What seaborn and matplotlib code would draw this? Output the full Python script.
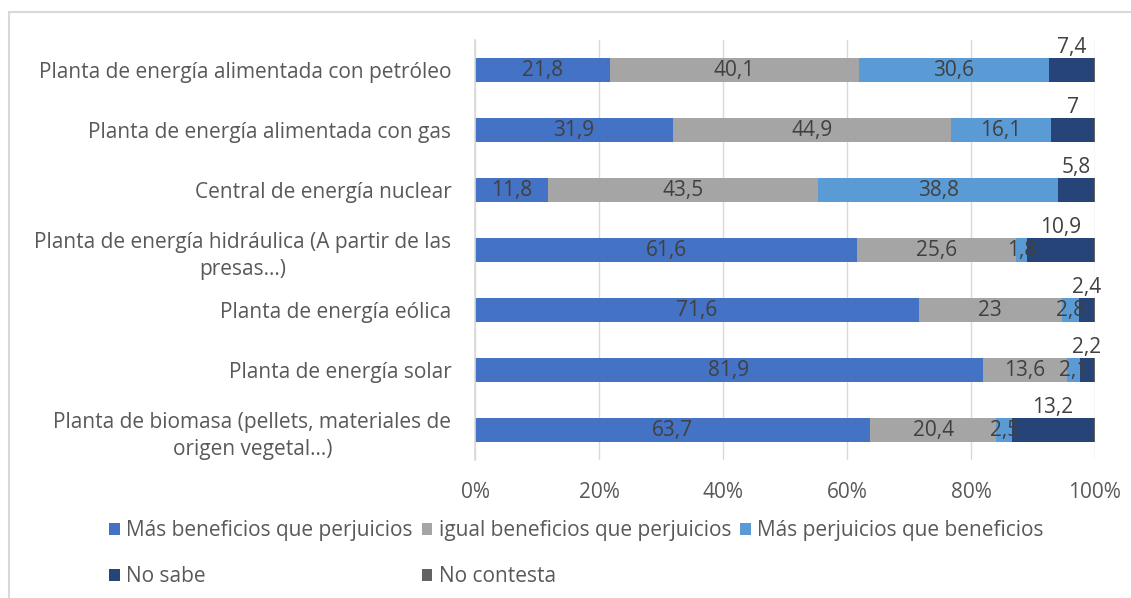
import numpy as np
import pandas as pd
import matplotlib
matplotlib.use("Agg")
import matplotlib.pyplot as plt
from matplotlib.patches import Patch, Rectangle
from matplotlib.ticker import FuncFormatter
import seaborn as sns

# ---- datos ----
plantas = [
    "Planta de energía alimentada con petróleo",
    "Planta de energía alimentada con gas",
    "Central de energía nuclear",
    "Planta de energía hidráulica (A partir de las\npresas…)",
    "Planta de energía eólica",
    "Planta de energía solar",
    "Planta de biomasa (pellets, materiales de\norigen vegetal…)",
]
mas_beneficios = [21.8, 31.9, 11.8, 61.6, 71.6, 81.9, 63.7]
igual_benef    = [40.1, 44.9, 43.5, 25.6, 23.0, 13.6, 20.4]
mas_perjuicios = [30.6, 16.1, 38.8, 1.8, 2.8, 2.1, 2.5]
no_sabe        = [7.4, 7.0, 5.8, 10.9, 2.4, 2.2, 13.2]
no_contesta    = [0.1, 0.1, 0.1, 0.1, 0.2, 0.2, 0.2]

series = ["Más beneficios que perjuicios", "igual beneficios que perjuicios",
          "Más perjuicios que beneficios", "No sabe", "No contesta"]
colores = ["#4472C4", "#A5A5A5", "#5B9BD5", "#264478", "#636363"]

df = pd.DataFrame({
    "planta": plantas,
    series[0]: mas_beneficios,
    series[1]: igual_benef,
    series[2]: mas_perjuicios,
    series[3]: no_sabe,
    series[4]: no_contesta,
})
cum = df[series].cumsum(axis=1)

# ---- estilo ----
sns.set_style("white")
plt.rcParams["font.family"] = ["Open Sans", "DejaVu Sans"]
FS = 15
txt_col = "#595959"
lbl_col = "#404040"

fig = plt.figure(figsize=(11.31, 5.98), dpi=100)
ax = fig.add_axes([475 / 1131, 1 - 460 / 598, 620 / 1131, 420 / 598])

# barras apiladas: se dibuja el acumulado de derecha a izquierda
for s, c in zip(series[::-1], colores[::-1]):
    sns.barplot(x=cum[s], y=df["planta"], color=c, saturation=1, width=0.4,
                orient="h", errorbar=None, ax=ax, linewidth=0, zorder=2)

# etiquetas de datos
for i in range(len(plantas)):
    left = 0
    for k, s in enumerate(series[:4]):
        v = df[s].iloc[i]
        txt = f"{v:g}".replace(".", ",")
        dy = 0 if k < 3 else -0.37
        ax.text(left + v / 2, i + dy, txt, ha="center", va="center",
                fontsize=FS, color=lbl_col, zorder=5)
        left += v

ax.set_xlim(0, 100)
ax.set_ylim(6.5, -0.5)
ax.set_xticks(np.arange(0, 101, 20))
ax.xaxis.set_major_formatter(FuncFormatter(lambda x, _: f"{x:.0f}%"))
ax.grid(axis="x", color="#D9D9D9", linewidth=1, zorder=0)
ax.set_axisbelow(True)
for sp in ["top", "right", "bottom"]:
    ax.spines[sp].set_visible(False)
ax.spines["left"].set_color("#D9D9D9")
ax.spines["left"].set_linewidth(1.2)
ax.spines["left"].set_zorder(6)
ax.tick_params(axis="x", length=0, pad=15.5, labelsize=FS, labelcolor=txt_col)
ax.tick_params(axis="y", length=0, pad=17, labelsize=FS, labelcolor=txt_col)
for t in ax.get_yticklabels():
    t.set_multialignment("center")
    t.set_linespacing(1.4)
ax.set_xlabel("")
ax.set_ylabel("")

# leyenda (orden por columnas para que quede por filas)
handles = [Patch(facecolor=c, edgecolor="none") for c in colores]
orden = [0, 3, 1, 4, 2]
fig.legend([handles[j] for j in orden], [series[j] for j in orden],
           loc="upper left", bbox_to_anchor=(101 / 1131, 1 - 512 / 598),
           ncol=3, frameon=False, fontsize=FS, labelcolor=txt_col,
           handlelength=0.5, handleheight=0.5, handletextpad=0.3,
           columnspacing=0.45, labelspacing=1.2, borderaxespad=0)

# borde del gráfico
fig.patches.append(Rectangle((9 / 1131, -0.1), 1.2, 1.1 - 12 / 598,
                             transform=fig.transFigure, fill=False,
                             edgecolor="#D9D9D9", linewidth=1.5))

fig.savefig("out.png", dpi=100)
